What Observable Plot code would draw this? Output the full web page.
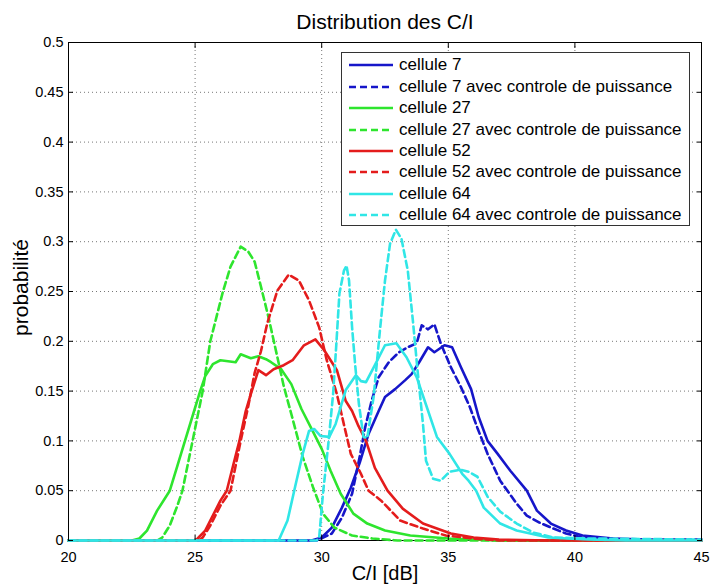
<!DOCTYPE html>
<html>
<head>
<meta charset="utf-8">
<script src="https://cdn.jsdelivr.net/npm/d3@7"></script>
<script src="https://cdn.jsdelivr.net/npm/@observablehq/plot@0.6"></script>
<style>
  html, body { margin: 0; padding: 0; background: #fff; }
  #wrap { position: relative; width: 710px; height: 586px; font-family: "Liberation Sans", Arial, sans-serif; }
  #legend { position: absolute; left: 341px; top: 52px; width: 347px; height: 172px; border: 1px solid #333; background: #fff; box-sizing: content-box; }
  .row { position: absolute; left: 0; height: 20px; display: flex; align-items: center; font-size: 17px; color: #000; white-space: nowrap; }
  .row svg { margin-left: 7px; margin-right: 6px; }
</style>
</head>
<body>
<div id="wrap"></div>
<script>
// ---- data ----
const title = "Distribution des C/I";
const xLabel = "C/I [dB]";
const yLabel = "probabilité";
const xTicks = [20, 25, 30, 35, 40, 45];
const yTicks = [0, 0.05, 0.1, 0.15, 0.2, 0.25, 0.3, 0.35, 0.4, 0.45, 0.5];

const names = [
  "cellule 7",
  "cellule 7 avec controle de puissance",
  "cellule 27",
  "cellule 27 avec controle de puissance",
  "cellule 52",
  "cellule 52 avec controle de puissance",
  "cellule 64",
  "cellule 64 avec controle de puissance"
];

const cell7 = [[20,0],[29.6,0],[30.0,0.003],[30.4,0.013],[30.8,0.033],[31.15,0.053],[31.5,0.078],[31.85,0.107],[32.25,0.13],[32.5,0.144],[32.9,0.152],[33.3,0.161],[33.55,0.167],[33.85,0.179],[34.2,0.194],[34.45,0.189],[34.85,0.196],[35.15,0.194],[35.5,0.174],[35.9,0.152],[36.2,0.124],[36.55,0.1],[36.95,0.087],[37.45,0.07],[38.1,0.05],[38.5,0.03],[39.05,0.017],[39.65,0.01],[40.3,0.005],[41.5,0.002],[42.8,0.001],[43,0],[45,0]];
const cell7pc = [[20,0],[29.8,0],[30.4,0.007],[30.8,0.023],[31.2,0.047],[31.5,0.084],[31.72,0.114],[31.98,0.141],[32.25,0.164],[32.65,0.179],[33.05,0.189],[33.4,0.194],[33.75,0.198],[33.95,0.216],[34.2,0.212],[34.45,0.217],[34.7,0.198],[35.1,0.174],[35.5,0.154],[35.85,0.134],[36.15,0.113],[36.55,0.087],[37.05,0.06],[37.7,0.037],[38.1,0.025],[38.6,0.018],[39.15,0.012],[39.65,0.007],[40.3,0.003],[42,0.001],[45,0.001]];
const cell27 = [[20,0],[22.5,0],[22.8,0.002],[23.1,0.01],[23.5,0.03],[24.0,0.05],[24.3,0.075],[24.6,0.1],[24.9,0.125],[25.2,0.15],[25.4,0.165],[25.7,0.177],[26.0,0.181],[26.3,0.18],[26.6,0.179],[26.8,0.187],[27.2,0.183],[27.5,0.185],[27.8,0.182],[28.0,0.179],[28.4,0.172],[28.8,0.157],[29.2,0.132],[29.6,0.112],[30.0,0.092],[30.35,0.07],[30.75,0.047],[31.25,0.027],[31.8,0.017],[32.5,0.01],[33.5,0.005],[35,0.002],[37,0],[45,0]];
const cell27pc = [[20,0],[23.5,0],[23.7,0.003],[24.0,0.015],[24.3,0.035],[24.5,0.05],[24.9,0.1],[25.3,0.15],[25.6,0.2],[25.85,0.225],[26.1,0.25],[26.4,0.275],[26.8,0.295],[27.1,0.29],[27.35,0.28],[27.6,0.255],[27.9,0.224],[28.25,0.184],[28.5,0.155],[28.8,0.127],[29.25,0.084],[29.65,0.054],[30.05,0.027],[30.5,0.013],[31.2,0.005],[32,0.002],[33,0],[45,0]];
const cell52 = [[20,0],[25.0,0],[25.1,0.002],[25.4,0.01],[25.7,0.025],[26.0,0.04],[26.25,0.05],[26.5,0.075],[26.75,0.1],[27.0,0.13],[27.2,0.147],[27.5,0.171],[27.8,0.166],[28.1,0.172],[28.5,0.176],[28.85,0.181],[29.3,0.196],[29.75,0.202],[30.1,0.191],[30.6,0.171],[30.95,0.14],[31.2,0.13],[31.45,0.115],[31.75,0.1],[32.1,0.073],[32.6,0.05],[33.2,0.032],[34.0,0.017],[35.1,0.007],[36,0.003],[37,0.001],[39,0],[45,0]];
const cell52pc = [[20,0],[25.15,0],[25.3,0.003],[25.6,0.015],[26.0,0.035],[26.4,0.05],[26.8,0.1],[27.1,0.135],[27.35,0.168],[27.6,0.19],[27.85,0.218],[28.25,0.251],[28.7,0.267],[29.1,0.261],[29.5,0.241],[29.9,0.214],[30.2,0.181],[30.6,0.147],[30.9,0.114],[31.15,0.087],[31.55,0.067],[31.85,0.05],[32.35,0.04],[33.1,0.02],[34.0,0.012],[34.9,0.005],[36,0.002],[37,0],[45,0]];
const cell64 = [[20,0],[28.3,0],[28.65,0.02],[28.95,0.054],[29.25,0.087],[29.5,0.11],[29.7,0.112],[29.95,0.105],[30.3,0.104],[30.55,0.117],[30.95,0.151],[31.35,0.166],[31.55,0.16],[31.75,0.159],[32.1,0.176],[32.5,0.196],[32.95,0.198],[33.35,0.184],[33.75,0.164],[34.15,0.134],[34.55,0.104],[35.05,0.087],[35.55,0.067],[35.8,0.06],[36.1,0.05],[36.4,0.033],[37.05,0.017],[37.7,0.01],[38.95,0.003],[40.5,0.001],[42,0],[45,0]];
const cell64pc = [[20,0],[29.8,0],[29.9,0.003],[30.05,0.047],[30.25,0.094],[30.45,0.147],[30.58,0.198],[30.7,0.248],[30.88,0.271],[30.98,0.276],[31.08,0.261],[31.2,0.214],[31.33,0.174],[31.47,0.137],[31.65,0.104],[31.8,0.103],[32.05,0.144],[32.3,0.211],[32.5,0.261],[32.7,0.298],[32.93,0.312],[33.15,0.303],[33.4,0.271],[33.6,0.221],[33.8,0.167],[34.0,0.117],[34.12,0.08],[34.4,0.062],[34.7,0.06],[35.05,0.069],[35.5,0.071],[35.8,0.069],[36.15,0.064],[36.55,0.044],[37.05,0.029],[37.7,0.017],[38.35,0.008],[39.15,0.003],[40.5,0.002],[45,0.001]];

const seriesValues = [cell7, cell7pc, cell27, cell27pc, cell52, cell52pc, cell64, cell64pc];

// ---- styles ----
const colors = ["#1616c9", "#1616c9", "#2ee52e", "#2ee52e", "#e41c1c", "#e41c1c", "#30e6e6", "#30e6e6"];
const dashes = [null, "7,4", null, "7,4", null, "7,4", null, "7,4"];

const rows = names.flatMap((name, i) => seriesValues[i].map(([x, y]) => ({name, x, y})));

const lineMarks = names.map((name, i) =>
  Plot.line(rows.filter(d => d.name === name), {
    x: "x", y: "y", stroke: colors[i], strokeWidth: 2.6,
    strokeDasharray: dashes[i] || undefined, strokeLinejoin: "round"
  })
);

const chart = Plot.plot({
  width: 710,
  height: 586,
  marginLeft: 68,
  marginRight: 9,
  marginTop: 42,
  marginBottom: 46,
  style: {fontFamily: '"Liberation Sans", Arial, sans-serif', fontSize: "14px", color: "#000", background: "#fff"},
  x: {domain: [20, 45]},
  y: {domain: [0, 0.5]},
  marks: [
    Plot.gridX(xTicks, {stroke: "#777", strokeOpacity: 1, strokeDasharray: "1,3"}),
    Plot.gridY(yTicks, {stroke: "#777", strokeOpacity: 1, strokeDasharray: "1,3"}),
    Plot.frame({stroke: "#000", strokeWidth: 1}),
    ...lineMarks,
    Plot.axisX(xTicks, {anchor: "bottom", tickSize: -5, tickPadding: 16, tickFormat: d => String(d), label: null, fontSize: 14.5}),
    Plot.axisX(xTicks, {anchor: "top", tickSize: -5, tickFormat: () => "", label: null}),
    Plot.axisY(yTicks, {anchor: "left", tickSize: -5, tickPadding: 10, tickFormat: d => String(d), label: null, fontSize: 14.5}),
    Plot.axisY(yTicks, {anchor: "right", tickSize: -5, tickFormat: () => "", label: null}),
    Plot.text([title], {frameAnchor: "top", textAnchor: "middle", lineAnchor: "middle", dy: -20, fontSize: 21}),
    Plot.text([xLabel], {frameAnchor: "bottom", textAnchor: "middle", lineAnchor: "middle", dy: 33, fontSize: 20}),
    Plot.text([yLabel], {frameAnchor: "left", textAnchor: "middle", lineAnchor: "middle", rotate: -90, dx: -47, dy: -4, fontSize: 21})
  ]
});

const wrap = document.getElementById("wrap");
wrap.appendChild(chart);

// ---- legend (HTML overlay) ----
const legend = document.createElement("div");
legend.id = "legend";
names.forEach((name, i) => {
  const row = document.createElement("div");
  row.className = "row";
  row.style.top = (2.3 + 21.4 * i) + "px";
  const sw = d3.create("svg").attr("width", 44).attr("height", 6);
  sw.append("line").attr("x1", 0).attr("x2", 44).attr("y1", 3).attr("y2", 3)
    .attr("stroke", colors[i]).attr("stroke-width", 2.6)
    .attr("stroke-dasharray", dashes[i] || null);
  row.appendChild(sw.node());
  const span = document.createElement("span");
  span.textContent = name;
  row.appendChild(span);
  legend.appendChild(row);
});
wrap.appendChild(legend);
</script>
</body>
</html>
